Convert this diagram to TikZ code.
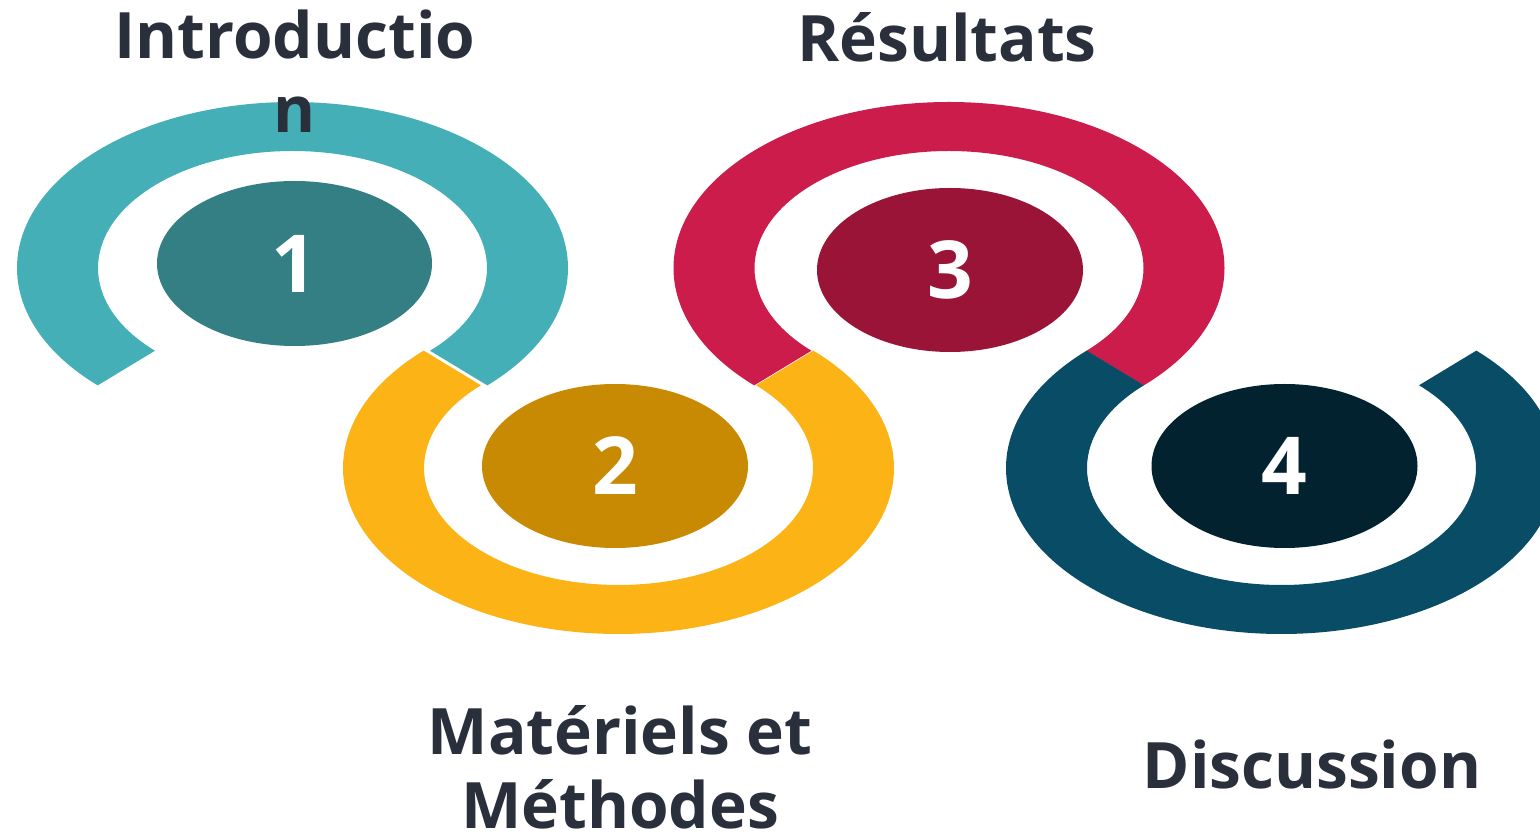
\documentclass[tikz,border=0pt]{standalone}
\usepackage{fontspec}
\setmainfont{Open Sans}
\usepackage{tikz}
\usetikzlibrary{shapes,calc}

\definecolor{tealring}{HTML}{44AFB7}
\definecolor{tealdisc}{HTML}{337F84}
\definecolor{goldring}{HTML}{FBB316}
\definecolor{golddisc}{HTML}{C98A03}
\definecolor{redring}{HTML}{CB1C4B}
\definecolor{reddisc}{HTML}{9A1438}
\definecolor{bluering}{HTML}{084C66}
\definecolor{bluedisc}{HTML}{03222F}
\definecolor{ink}{HTML}{2A303B}

% one open elliptic band: colour, centre, start angle, end angle
\newcommand{\ringpart}[4]{%
  \fill[#1] ($(#2)+(#3:275.5pt and 166pt)$)
    arc[start angle=#3, end angle=#4, x radius=275.5pt, y radius=166pt]
    -- ($(#2)+(#4:194.5pt and 117pt)$)
    arc[start angle=#4, end angle=#3, x radius=194.5pt, y radius=117pt]
    -- cycle;}

\begin{document}
\begin{tikzpicture}[x=1pt,y=1pt]
\tikzstyle{disc}=[ellipse, minimum width=266pt, minimum height=164pt, inner sep=0pt, text=white, font=\fontsize{80}{96}\selectfont\bfseries]
\tikzstyle{title}=[align=center, anchor=base, text=ink, inner sep=0pt, font=\fontsize{64}{74}\selectfont\bfseries]
\useasboundingbox (0,0) rectangle (1540,836);
\clip (0,0) rectangle (1540,836);
	\coordinate (c_1) at (292.5,568);
	\coordinate (c_2) at (618.5,368);
	\coordinate (c_3) at (949,568);
	\coordinate (c_4) at (1281.5,368);

	\ringpart{tealring}{c_1}{225}{-45}
	\ringpart{goldring}{c_2}{135}{405}
	\ringpart{redring}{c_3}{225}{-45}
	\ringpart{bluering}{c_4}{135}{405}

	\node[disc, fill=tealdisc, minimum width=275pt, minimum height=165pt] (d_1) at (294.5,572.5) {1};
	\node[disc, fill=golddisc] (d_2) at (615,370) {2};
	\node[disc, fill=reddisc] (d_3) at (950,566) {3};
	\node[disc, fill=bluedisc] (d_4) at (1284.5,370) {4};

	% base anchor sits on the last line
	\node[title] (t_1) at (295,703) {Introductio\\n};
	\node[title] (t_2) at (620,8) {Matériels et\\Méthodes};
	\node[title] (t_3) at (947,774) {Résultats};
	\node[title] (t_4) at (1312,48) {Discussion};
\end{tikzpicture}
\end{document}
